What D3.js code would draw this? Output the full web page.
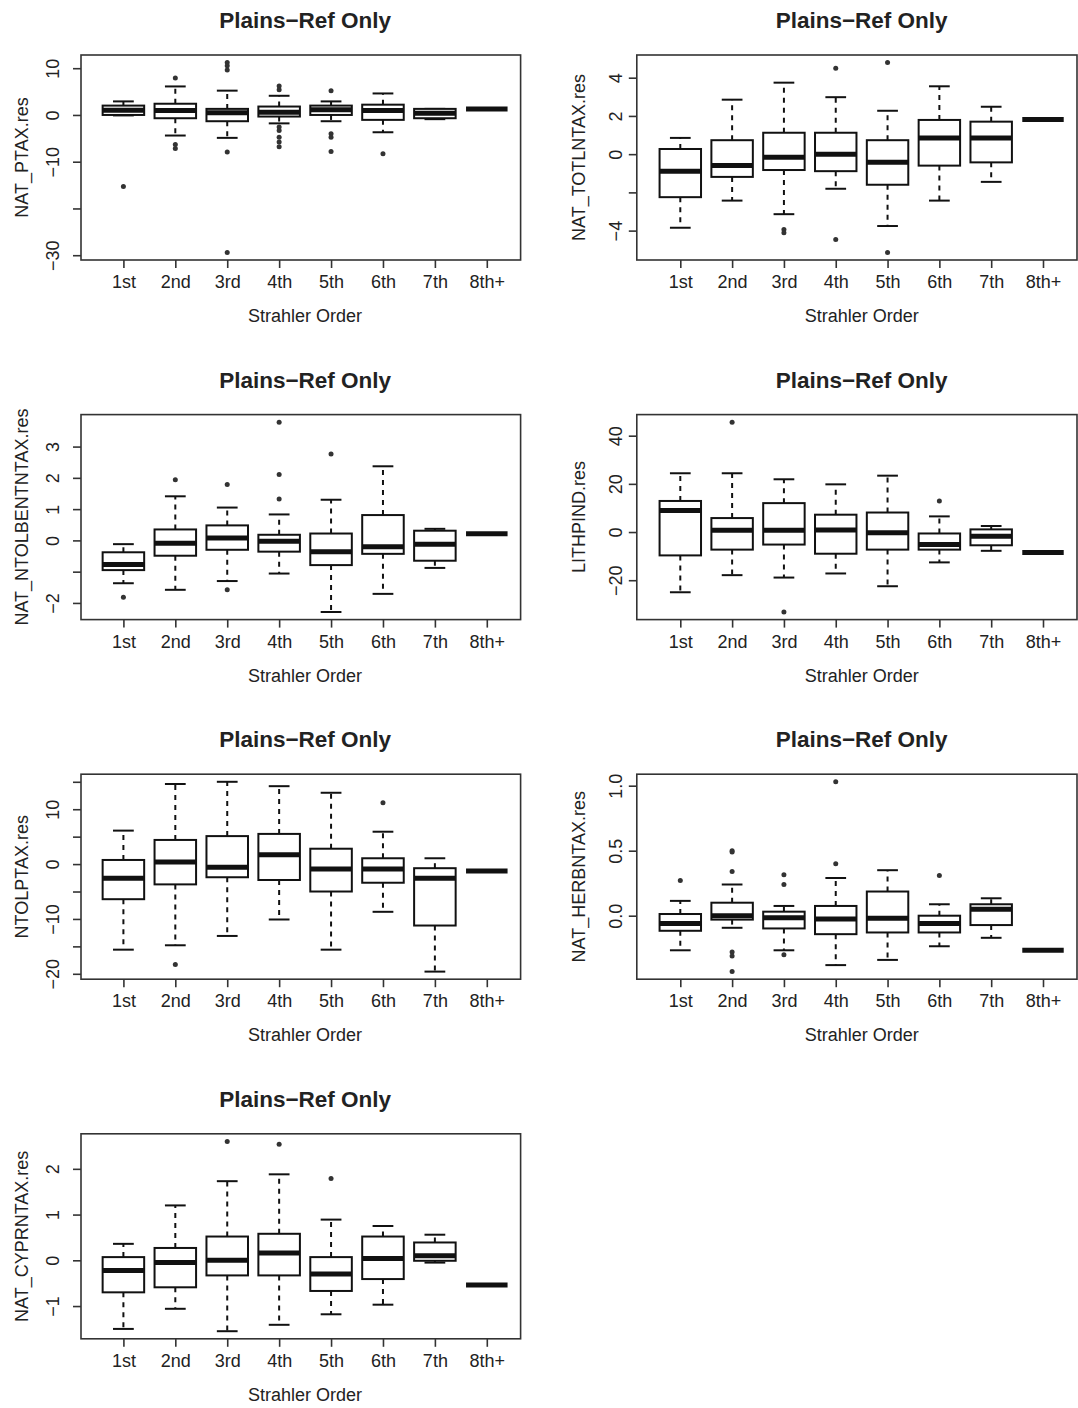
<!DOCTYPE html>
<html><head><meta charset="utf-8">
<script src="https://cdn.jsdelivr.net/npm/d3@7"></script>
<style>
body{margin:0;background:#fff}
svg{display:block}
text{font-family:"Liberation Sans",Arial,Helvetica,sans-serif;fill:#222}
</style>
</head><body>
<svg id="chart" width="1078" height="1408"></svg>
<script>
// ---------- DATA ----------
const categories = ["1st","2nd","3rd","4th","5th","6th","7th","8th+"];
const panelTitle = "Plains\u2212Ref Only";
const xAxisTitle = "Strahler Order";

// stats per category: [lower whisker, Q1, median, Q3, upper whisker]
const ptaxStats = [[-0.1,0.0,1.0,2.0,2.9],[-4.4,-0.7,0.94,2.4,6.1],[-4.9,-1.34,0.45,1.3,5.2],[-1.8,-0.34,0.58,1.8,4.1],
  [-1.34,0.0,1.1,2.0,2.9],[-3.7,-1.05,0.94,2.2,4.6],[-0.9,-0.7,0.36,1.3,1.3],[1.3,1.3,1.3,1.3,1.3]];
const ptaxOut = [[-15.3],[7.9,-6.3,-7.2],[11.2,10.5,9.6,-7.9,-29.4],[6.2,5.4,-2.6,-3.3,-4.75,-5.8,-6.8],[5.2,-4.0,-4.75,-7.8],[-8.3],[],[]];
const ptaxTicks = [10,0,-10,-20,-30];
const ptaxTickLabels = ["10","0","\u221210","","\u221230"];

const totlStats = [[-3.85,-2.25,-0.89,0.27,0.85],[-2.43,-1.19,-0.6,0.73,2.85],[-3.14,-0.83,-0.16,1.12,3.74],[-1.81,-0.89,0.0,1.12,2.98],
  [-3.76,-1.6,-0.43,0.73,2.27],[-2.43,-0.6,0.85,1.79,3.55],[-1.45,-0.43,0.85,1.70,2.48],[1.81,1.81,1.81,1.81,1.81]];
const totlOut = [[],[],[-3.94,-4.11],[4.49,-4.47],[4.79,-5.14],[],[],[]];
const totlTicks = [4,2,0,-2,-4];
const totlTickLabels = ["4","2","0","","\u22124"];

const ntolbStats = [[-1.37,-0.95,-0.77,-0.38,-0.12],[-1.58,-0.49,-0.09,0.35,1.41],[-1.30,-0.30,0.08,0.48,1.05],[-1.06,-0.36,-0.03,0.18,0.83],
  [-2.29,-0.79,-0.36,0.22,1.30],[-1.71,-0.43,-0.20,0.81,2.37],[-0.88,-0.65,-0.12,0.31,0.37],[0.21,0.21,0.21,0.21,0.21]];
const ntolbOut = [[-1.82],[1.94],[1.79,-1.58],[3.78,2.11,1.32],[2.76],[],[],[]];
const ntolbTicks = [3,2,1,0,-1,-2];
const ntolbTickLabels = ["3","2","1","0","","\u22122"];

const lithStats = [[-25,-9.7,8.9,12.9,24.4],[-17.9,-7.3,0.7,5.8,24.4],[-18.9,-5.2,0.7,12,21.9],[-17.2,-9.0,0.8,7.2,19.8],
  [-22.5,-7.3,-0.3,8.1,23.4],[-12.6,-7.3,-5.2,-0.6,6.5],[-7.8,-5.5,-1.7,1.1,2.5],[-8.5,-8.5,-8.5,-8.5,-8.5]];
const lithOut = [[],[45.6],[-33.2],[],[],[12.9],[],[]];
const lithTicks = [40,20,0,-20];
const lithTickLabels = ["40","20","0","\u221220"];

const ntolpStats = [[-15.6,-6.4,-2.6,0.75,6.1],[-14.8,-3.7,0.4,4.4,14.6],[-13.1,-2.4,-0.6,5.1,15.0],[-10.1,-2.9,1.7,5.5,14.2],
  [-15.6,-5.0,-0.9,2.8,13.0],[-8.7,-3.4,-0.9,1.06,5.9],[-19.6,-11.2,-2.6,-0.75,1.06],[-1.25,-1.25,-1.25,-1.25,-1.25]];
const ntolpOut = [[],[-18.3],[],[],[],[11.2],[],[]];
const ntolpTicks = [15,10,5,0,-5,-10,-15,-20];
const ntolpTickLabels = ["","10","","0","","\u221210","","\u221220"];

const herbStats = [[-0.266,-0.116,-0.06,0.013,0.114],[-0.093,-0.03,0.0,0.10,0.24],[-0.266,-0.098,-0.016,0.031,0.075],[-0.38,-0.142,-0.026,0.075,0.29],
  [-0.34,-0.129,-0.02,0.186,0.35],[-0.235,-0.129,-0.06,0.0,0.088],[-0.17,-0.072,0.049,0.088,0.134],[-0.266,-0.266,-0.266,-0.266,-0.266]];
const herbOut = [[0.27],[0.50,0.49,0.34,-0.28,-0.31,-0.43],[0.315,0.24,-0.30],[1.03,0.40],[],[0.31],[],[]];
const herbTicks = [1.0,0.5,0.0];
const herbTickLabels = ["1.0","0.5","0.0"];

const cyprStats = [[-1.50,-0.70,-0.22,0.07,0.36],[-1.06,-0.59,-0.05,0.27,1.20],[-1.55,-0.33,0.0,0.52,1.73],[-1.41,-0.33,0.16,0.58,1.88],
  [-1.18,-0.67,-0.30,0.07,0.89],[-0.97,-0.41,0.04,0.52,0.75],[-0.05,-0.01,0.10,0.39,0.56],[-0.54,-0.54,-0.54,-0.54,-0.54]];
const cyprOut = [[],[],[2.60],[2.54],[1.79],[],[],[]];
const cyprTicks = [2,1,0,-1];
const cyprTickLabels = ["2","1","0","\u22121"];

const yLabels = ["NAT_PTAX.res","NAT_TOTLNTAX.res","NAT_NTOLBENTNTAX.res","LITHPIND.res","NTOLPTAX.res","NAT_HERBNTAX.res","NAT_CYPRNTAX.res"];

const panels = [
  {label:yLabels[0], stats:ptaxStats, out:ptaxOut, ticks:ptaxTicks, tickLabels:ptaxTickLabels},
  {label:yLabels[1], stats:totlStats, out:totlOut, ticks:totlTicks, tickLabels:totlTickLabels},
  {label:yLabels[2], stats:ntolbStats, out:ntolbOut, ticks:ntolbTicks, tickLabels:ntolbTickLabels},
  {label:yLabels[3], stats:lithStats, out:lithOut, ticks:lithTicks, tickLabels:lithTickLabels},
  {label:yLabels[4], stats:ntolpStats, out:ntolpOut, ticks:ntolpTicks, tickLabels:ntolpTickLabels},
  {label:yLabels[5], stats:herbStats, out:herbOut, ticks:herbTicks, tickLabels:herbTickLabels},
  {label:yLabels[6], stats:cyprStats, out:cyprOut, ticks:cyprTicks, tickLabels:cyprTickLabels}
];

// ---------- LAYOUT ----------
const cols = [
  {left:81, t1:123.4, t8:486.8, right:520.6, ytickX:53, ylabX:22},
  {left:636.8, t1:680.3, t8:1043, right:1077, ytickX:615.6, ylabX:579}
];
const rowTop = 55, rowBottom = 260, rowStep = 359.6;
const ink = "#111";

const svg = d3.select("#chart");

panels.forEach((p, k) => {
  const C = cols[k % 2];
  const r = Math.floor(k / 2);
  const top = rowTop + rowStep * r, bottom = rowBottom + rowStep * r;
  const x = d3.scaleLinear().domain([1, 8]).range([C.t1, C.t8]);
  const all = p.stats.flat().concat(p.out.flat());
  const mn = d3.min(all), mx = d3.max(all), pad = (mx - mn) * 0.04;
  const y = d3.scaleLinear().domain([mn - pad, mx + pad]).range([bottom, top]);
  const unit = (C.t8 - C.t1) / 7;
  const bw = 0.8 * unit, sw = bw / 2;
  const g = svg.append("g");

  p.stats.forEach((s, i) => {
    const cx = x(i + 1);
    const [lo, q1, md, q3, hi] = s;
    const bg = g.append("g");
    if (hi > q3) bg.append("line").attr("x1", cx).attr("x2", cx).attr("y1", y(q3)).attr("y2", y(hi))
      .attr("stroke", ink).attr("stroke-width", 2).attr("stroke-dasharray", "5,5");
    if (lo < q1) bg.append("line").attr("x1", cx).attr("x2", cx).attr("y1", y(q1)).attr("y2", y(lo))
      .attr("stroke", ink).attr("stroke-width", 2).attr("stroke-dasharray", "5,5");
    if (q3 > q1) {
      [hi, lo].forEach(v => bg.append("line").attr("x1", cx - sw / 2).attr("x2", cx + sw / 2)
        .attr("y1", y(v)).attr("y2", y(v)).attr("stroke", ink).attr("stroke-width", 2));
      bg.append("rect").attr("x", cx - bw / 2).attr("width", bw).attr("y", y(q3)).attr("height", y(q1) - y(q3))
        .attr("fill", "#fff").attr("stroke", ink).attr("stroke-width", 2);
    }
    bg.append("line").attr("x1", cx - bw / 2).attr("x2", cx + bw / 2).attr("y1", y(md)).attr("y2", y(md))
      .attr("stroke", ink).attr("stroke-width", 5);
    p.out[i].forEach(v => bg.append("circle").attr("cx", cx).attr("cy", y(v)).attr("r", 2.5).attr("fill", "#333"));
  });

  // frame
  g.append("rect").attr("x", C.left).attr("y", top).attr("width", C.right - C.left).attr("height", bottom - top)
    .attr("fill", "none").attr("stroke", "#333").attr("stroke-width", 1.6);

  // x axis
  const xa = g.append("g").attr("transform", `translate(0,${bottom})`)
    .call(d3.axisBottom(x).tickValues(d3.range(1, 9)).tickSize(8).tickFormat(d => categories[d - 1]));
  xa.select(".domain").remove();
  xa.selectAll(".tick line").attr("stroke", "#333").attr("stroke-width", 1.6);
  xa.selectAll(".tick text").attr("y", 28).attr("dy", null).style("font-size", "18px").attr("fill", "#222");

  // y axis
  const ya = g.append("g").attr("transform", `translate(${C.left},0)`)
    .call(d3.axisLeft(y).tickValues(p.ticks).tickSize(8).tickFormat((d, i) => p.tickLabels[i]));
  ya.select(".domain").remove();
  ya.selectAll(".tick line").attr("stroke", "#333").attr("stroke-width", 1.6);
  ya.selectAll(".tick text").attr("x", null).attr("dy", "0.36em").attr("text-anchor", "middle")
    .attr("transform", `translate(${C.ytickX - C.left},0) rotate(-90)`)
    .style("font-size", "18px").attr("fill", "#222");

  // titles
  g.append("text").attr("x", x(4.5)).attr("y", top - 27).attr("text-anchor", "middle")
    .style("font-size", "22.5px").style("font-weight", "bold").text(panelTitle);
  g.append("text").attr("x", x(4.5)).attr("y", bottom + 62).attr("text-anchor", "middle")
    .style("font-size", "18px").text(xAxisTitle);
  g.append("text").attr("transform", `translate(${C.ylabX},${(top + bottom) / 2}) rotate(-90)`)
    .attr("dy", "0.36em").attr("text-anchor", "middle").style("font-size", "18px").text(p.label);
});
</script>
</body></html>
